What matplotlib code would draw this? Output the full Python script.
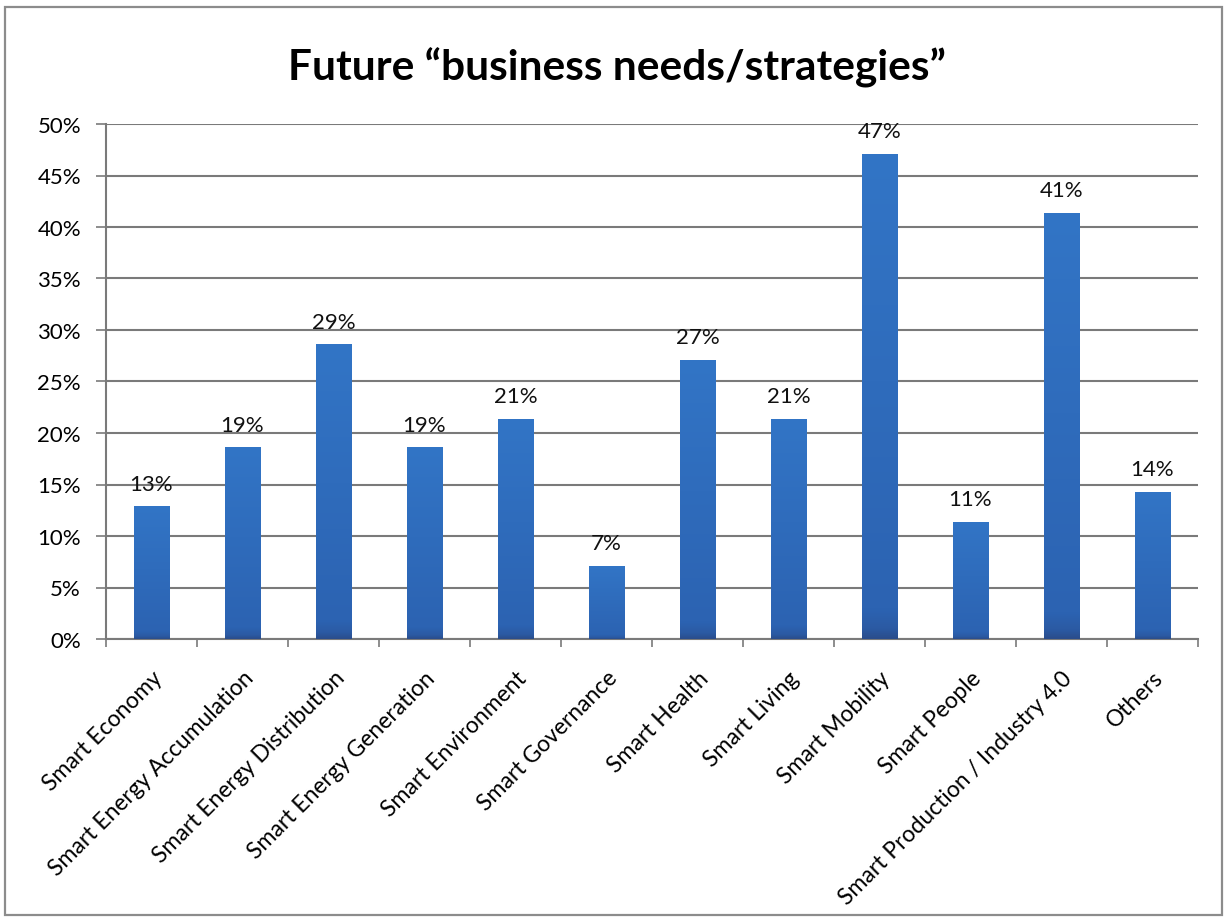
import numpy as np
import matplotlib
matplotlib.use("Agg")
import matplotlib.pyplot as plt
from matplotlib.patches import Rectangle
from matplotlib.colors import LinearSegmentedColormap
from matplotlib.ticker import PercentFormatter, MultipleLocator, FixedLocator

plt.rcParams['font.family'] = ['Lato', 'DejaVu Sans']

categories = [
    "Smart Economy",
    "Smart Energy Accumulation",
    "Smart Energy Distribution",
    "Smart Energy Generation",
    "Smart Environment",
    "Smart Governance",
    "Smart Health",
    "Smart Living",
    "Smart Mobility",
    "Smart People",
    "Smart Production / Industry 4.0",
    "Others",
]
# share of respondents, in percent
shares = [12.9, 18.6, 28.6, 18.6, 21.4, 7.1, 27.1, 21.4, 47.1, 11.4, 41.4, 14.3]
title_text = "Future \u201cbusiness needs/strategies\u201d"

fig = plt.figure(figsize=(12.28, 9.2), dpi=100)
fig.patch.set_facecolor("white")

# outer chart frame
fig.add_artist(Rectangle((5 / 1228, 1 - 916 / 920), 1217 / 1228, 908 / 920,
                         transform=fig.transFigure, fill=False,
                         edgecolor="#8c8c8c", linewidth=1.6))

ax = fig.add_axes([106 / 1228, 1 - 640 / 920, 1092 / 1228, 515 / 920])
x = np.arange(len(categories))
values = np.array(shares) / 100.0

bars = ax.bar(x, values, width=0.39, color="#2f6cbd", zorder=3)

# vertical shading inside each bar, darker near the base
cmap = LinearSegmentedColormap.from_list(
    "barshade", [(0.0, "#2a4d8c"), (0.02, "#2b5aa3"), (0.06, "#2c63b2"),
                 (1.0, "#3275c6")])
grad = np.linspace(0, 1, 256).reshape(-1, 1)
for b in bars:
    x0, y0 = b.get_x(), b.get_y()
    w, h = b.get_width(), b.get_height()
    im = ax.imshow(grad, cmap=cmap, aspect="auto", origin="lower",
                   extent=(x0, x0 + w, y0, y0 + h), zorder=4)
    im.set_clip_path(b)

for xi, v in zip(x, shares):
    ax.annotate(f"{v:.0f}%", (xi, v / 100.0), xytext=(0, 9),
                textcoords="offset points", ha="center", va="bottom",
                fontsize=16, color="#111111", zorder=5)

ax.set_xlim(-0.5, len(categories) - 0.5)
ax.set_ylim(0, 0.5)
ax.yaxis.set_major_locator(MultipleLocator(0.05))
ax.yaxis.set_major_formatter(PercentFormatter(1.0, decimals=0))
ax.grid(axis="y", color="#7a7a7a", linewidth=1.5, zorder=1)
ax.set_axisbelow(True)

ax.set_xticks(x)
ax.set_xticklabels(categories, rotation=45, ha="right", va="top",
                   rotation_mode="anchor", fontsize=16.5)
ax.tick_params(axis="x", which="major", length=0, pad=20)
ax.xaxis.set_minor_locator(FixedLocator(np.arange(-0.5, len(categories), 1.0)))
ax.tick_params(axis="x", which="minor", length=6, width=1.2, color="#7a7a7a",
               direction="out")
ax.tick_params(axis="y", length=7, width=1.2, color="#7a7a7a", labelsize=16,
               pad=11)

for side in ("top", "right"):
    ax.spines[side].set_visible(False)
for side in ("left", "bottom"):
    ax.spines[side].set_color("#7a7a7a")
    ax.spines[side].set_linewidth(1.5)

fig.text(617 / 1228, 1 - 68 / 920, title_text, ha="center", va="center",
         fontsize=30.5, fontweight="bold", color="#000000")

fig.savefig("out.png", dpi=100, facecolor="white")
